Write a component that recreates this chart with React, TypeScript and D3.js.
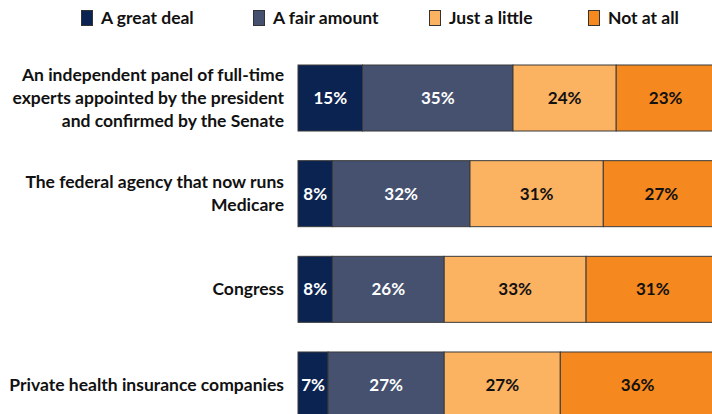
import * as d3 from "d3";

const categories = [
  "An independent panel of full-time experts appointed by the president and confirmed by the Senate",
  "The federal agency that now runs Medicare",
  "Congress",
  "Private health insurance companies",
];
const categoryLines = [
  ["An independent panel of full-time", "experts appointed by the president", "and confirmed by the Senate"],
  ["The federal agency that now runs", "Medicare"],
  ["Congress"],
  ["Private health insurance companies"],
];
const seriesNames = ["A great deal", "A fair amount", "Just a little", "Not at all"];
const greatDeal = [15, 8, 8, 7];
const fairAmount = [35, 32, 26, 27];
const justLittle = [24, 31, 33, 27];
const notAtAll = [23, 27, 31, 36];
const colors = ["#0b2350", "#45516f", "#fbb261", "#f5881e"];
const textColors = ["#ffffff", "#ffffff", "#111111", "#111111"];

const W = 712;
const H = 414;
const FONT = "Lato, 'Open Sans', sans-serif";

export default function App() {
  const values = [greatDeal, fairAmount, justLittle, notAtAll];
  const rows = categories.map((c, i) => {
    const o: Record<string, number | string> = { category: c };
    seriesNames.forEach((s, k) => (o[s] = values[k][i]));
    return o;
  });
  const stack = d3.stack<Record<string, number | string>>().keys(seriesNames).value((d, k) => d[k] as number);
  const layers = stack(rows);

  const x = d3.scaleLinear().domain([0, 100]).range([298, 728]);
  const y = d3.scaleBand().domain(categories).range([65, 418]).paddingInner(0.31).paddingOuter(0);

  const legendX = [81, 253, 429, 588];

  return (
    <svg width={W} height={H} style={{ position: "absolute", left: 0, top: 0, background: "#fff" }} fontFamily={FONT}>
      {seriesNames.map((s, k) => (
        <g key={s} transform={`translate(${legendX[k]},10)`}>
          <rect x={0.5} y={0.5} width={11} height={15} fill={colors[k]} stroke="#333" strokeWidth={1} />
          <text x={20} y={14} fontSize={17.5} fontWeight={700} fill="#111">{s}</text>
        </g>
      ))}
      {categories.map((c, i) => {
        const lines = categoryLines[i];
        const cy = (y(c) ?? 0) + y.bandwidth() / 2;
        const lh = 23;
        const start = cy - ((lines.length - 1) * lh) / 2;
        return (
          <text key={c} textAnchor="end" fontSize={17.5} fontWeight={700} fill="#111">
            {lines.map((l, j) => (
              <tspan key={j} x={284} y={start + j * lh} dy="0.35em">{l}</tspan>
            ))}
          </text>
        );
      })}
      {layers.map((layer, k) => (
        <g key={layer.key}>
          {layer.map((d, i) => {
            const x0 = x(d[0]);
            const x1 = x(d[1]);
            const yy = y(categories[i]) ?? 0;
            return (
              <g key={i}>
                <rect x={x0} y={yy} width={x1 - x0} height={y.bandwidth()} fill={colors[k]} stroke="#3a3a3a" strokeWidth={1} />
                <text x={(x0 + x1) / 2} y={yy + y.bandwidth() / 2} dy="0.35em" textAnchor="middle" fontSize={17} fontWeight={700} fill={textColors[k]}>
                  {`${d[1] - d[0]}%`}
                </text>
              </g>
            );
          })}
        </g>
      ))}
    </svg>
  );
}
